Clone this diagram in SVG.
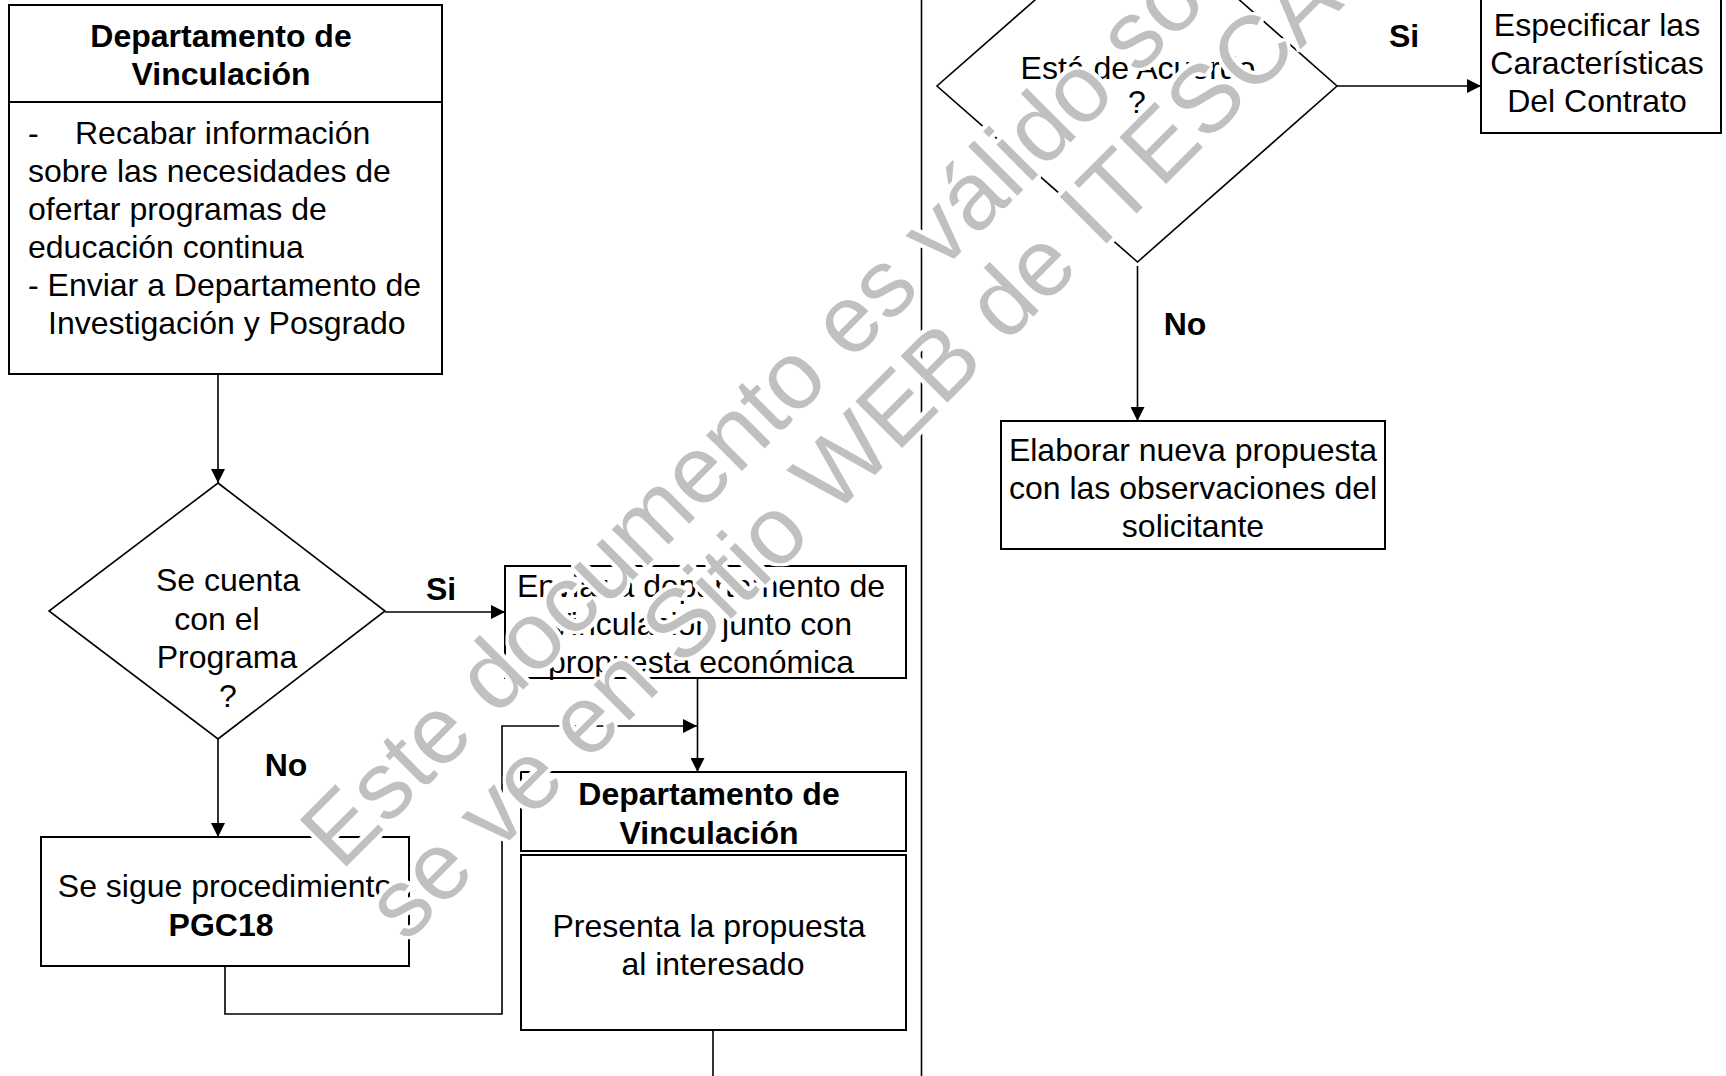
<svg xmlns="http://www.w3.org/2000/svg" width="1726" height="1076" viewBox="0 0 1726 1076">
<style>
text{font-family:"Liberation Sans",Arial,sans-serif;font-size:32px;fill:#000}
.b{font-weight:bold}
.m{text-anchor:middle}
.box{fill:#fff;stroke:#000;stroke-width:2}
.dia{fill:#fff;stroke:#000;stroke-width:1.6}
.con{fill:none;stroke:#000;stroke-width:1.6}
.wm{font-size:96px;fill:#c0c0c0}
</style>
<defs>
<marker id="arr" markerUnits="userSpaceOnUse" markerWidth="14" markerHeight="14" refX="14" refY="7" orient="auto">
<path d="M0,0 L14,7 L0,14 z" fill="#000"/>
</marker>
<filter id="halo" x="-10%" y="-10%" width="120%" height="120%">
<feMorphology in="SourceGraphic" operator="dilate" radius="0.4" result="thick"/>
<feMorphology in="SourceAlpha" operator="dilate" radius="3" result="wide"/>
<feFlood flood-color="#fff" result="white"/>
<feComposite in="white" in2="wide" operator="in" result="whitehalo"/>
<feMerge><feMergeNode in="whitehalo"/><feMergeNode in="thick"/></feMerge>
</filter>
</defs>
<rect width="1726" height="1076" fill="#fff"/>

<g id="connectors">
<line class="con" x1="921.5" y1="0" x2="921.5" y2="1076"/>
<line class="con" x1="218" y1="374" x2="218" y2="483" marker-end="url(#arr)"/>
<line class="con" x1="385" y1="612" x2="505" y2="612" marker-end="url(#arr)"/>
<line class="con" x1="218" y1="739" x2="218" y2="837" marker-end="url(#arr)"/>
<line class="con" x1="697.5" y1="678" x2="697.5" y2="772" marker-end="url(#arr)"/>
<path class="con" d="M225,966 V1014 H502 V726 H697" marker-end="url(#arr)"/>
<line class="con" x1="713" y1="1030" x2="713" y2="1076"/>
<line class="con" x1="1337" y1="86" x2="1481" y2="86" marker-end="url(#arr)"/>
<line class="con" x1="1137.5" y1="266" x2="1137.5" y2="421" marker-end="url(#arr)"/>
</g>

<g id="n1">
<rect class="box" x="9" y="5" width="433" height="369"/>
<line class="box" x1="9" y1="102" x2="442" y2="102"/>
<text class="b m" x="221" y="47">Departamento de</text>
<text class="b m" x="221" y="85">Vinculación</text>
<text x="28" y="144">-</text>
<text x="75" y="144">Recabar información</text>
<text x="28" y="182">sobre las necesidades de</text>
<text x="28" y="220">ofertar programas de</text>
<text x="28" y="258">educación continua</text>
<text x="28" y="296">- Enviar a Departamento de</text>
<text x="48" y="334">Investigación y Posgrado</text>
</g>

<g id="d1">
<polygon class="dia" points="218,483 385,611 218,739 49,611"/>
<text class="m" x="228" y="591">Se cuenta</text>
<text class="m" x="217" y="630">con el</text>
<text class="m" x="227" y="668">Programa</text>
<text class="m" x="228" y="707">?</text>
</g>

<g id="lbl-si1"><text class="b m" x="441" y="600">Si</text></g>
<g id="lbl-no1"><text class="b m" x="286" y="776">No</text></g>

<g id="n2">
<rect class="box" x="505" y="566" width="401" height="112"/>
<text class="m" x="701" y="597">Enviar a departamento de</text>
<text class="m" x="701" y="635">Vinculación junto con</text>
<text class="m" x="701" y="673">propuesta económica</text>
</g>

<g id="n3">
<rect class="box" x="41" y="837" width="368" height="129"/>
<text class="m" x="225" y="897">Se sigue procedimiento</text>
<text class="b m" x="221" y="936">PGC18</text>
</g>

<g id="n4">
<rect class="box" x="521" y="772" width="385" height="79"/>
<text class="b m" x="709" y="805">Departamento de</text>
<text class="b m" x="709" y="844">Vinculación</text>
<rect class="box" x="521" y="855" width="385" height="175"/>
<text class="m" x="709" y="937">Presenta la propuesta</text>
<text class="m" x="713" y="975">al interesado</text>
</g>

<g id="d2">
<polygon class="dia" points="1137.5,-90 1337,86 1137.5,262 937,86"/>
<text class="m" x="1138" y="79">Está de Acuerdo</text>
<text class="m" x="1137" y="113">?</text>
</g>

<g id="lbl-si2"><text class="b m" x="1404" y="47">Si</text></g>
<g id="lbl-no2"><text class="b m" x="1185" y="335">No</text></g>

<g id="n5">
<rect class="box" x="1481" y="-4" width="240" height="137"/>
<text class="m" x="1597" y="36">Especificar las</text>
<text class="m" x="1597" y="74">Características</text>
<text class="m" x="1597" y="112">Del Contrato</text>
</g>

<g id="n6">
<rect class="box" x="1001" y="421" width="384" height="128"/>
<text class="m" x="1193" y="461">Elaborar nueva propuesta</text>
<text class="m" x="1193" y="499">con las observaciones del</text>
<text class="m" x="1193" y="537">solicitante</text>
</g>

<g id="watermark" filter="url(#halo)">
<text class="wm" transform="translate(341,872) rotate(-45)">Este documento es válido solo si</text>
<text class="wm" transform="translate(406,944) rotate(-45)">se ve en Sitio WEB de ITESCA</text>
</g>
</svg>
